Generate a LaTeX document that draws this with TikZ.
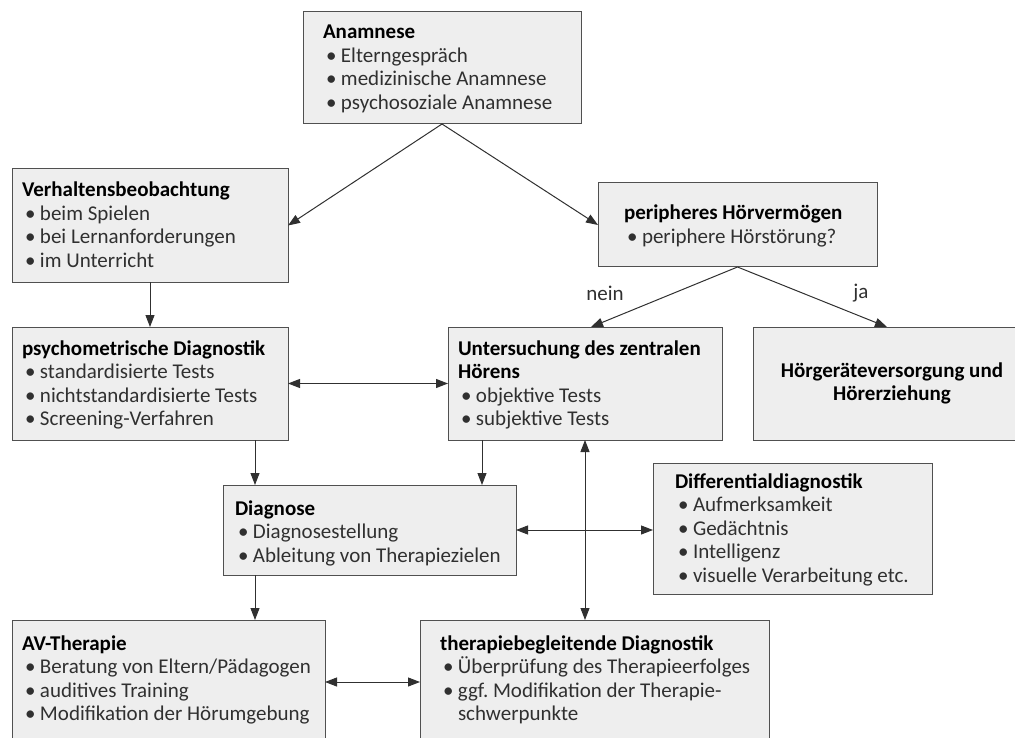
\documentclass[tikz,border=0pt]{standalone}
\usepackage{fontspec}
\setmainfont{Carlito}
\usepackage{tikz}
\usetikzlibrary{arrows.meta,positioning,calc}
\definecolor{boxbg}{HTML}{EEEEEE}
\definecolor{rulec}{HTML}{505050}
\definecolor{itemc}{HTML}{303030}
\newcommand{\boxfont}{\fontsize{21pt}{23.5pt}\selectfont}
\newcommand{\ttl}[1]{\textbf{#1}}
\newcommand{\itm}[1]{\par\leavevmode{\color{itemc}\hspace*{3pt}\makebox[15pt][l]{\textbullet}\mbox{#1}}}
\newcommand{\itmc}[1]{\par\leavevmode{\color{itemc}\hspace*{18pt}\mbox{#1}}}
\newcommand{\boxbody}[4][28pt]{\parbox[t][#3][t]{#2}{\rule{0pt}{#1}#4}}
\tikzset{
  box/.style={draw=rulec,line width=1pt,fill=boxbg,anchor=north west,
    inner xsep=#1,inner ysep=0pt,outer sep=0pt,font=\boxfont},
  box/.default=10pt,
  cbox/.style={draw=rulec,line width=1pt,fill=boxbg,anchor=north west,
    outer sep=0pt,align=center,font=\boxfont\bfseries},
  arr/.style={draw=itemc,line width=1pt,-{Triangle[length=12pt,width=9pt]}},
  darr/.style={arr,{Triangle[length=12pt,width=9pt]}-{Triangle[length=12pt,width=9pt]}},
  lab/.style={font=\boxfont,text=itemc,inner sep=0pt},
}
\begin{document}
\begin{tikzpicture}[x=1pt,y=-1pt]
  \useasboundingbox (0,0) rectangle (1015,738);
  % top row
  \node[box=20pt] (anam) at (303,12) {\boxbody[27pt]{238pt}{112pt}{\ttl{Anamnese}
    \itm{Elterngespräch}\itm{medizinische Anamnese}\itm{psychosoziale Anamnese}}};
  \node[box] (verh) at (12,169) {\boxbody{256pt}{113pt}{\ttl{Verhaltensbeobachtung}
    \itm{beim Spielen}\itm{bei Lernanforderungen}\itm{im Unterricht}}};
  \node[box=26pt] (peri) at (598,183) {\boxbody[37pt]{227pt}{84pt}{\ttl{peripheres Hörvermögen}
    \itm{periphere Hörstörung?}}};
  % middle row
  \node[box] (psych) at (12,327) {\boxbody{256pt}{113pt}{\ttl{psychometrische Diagnostik}
    \itm{standardisierte Tests}\itm{nichtstandardisierte Tests}\itm{Screening-Verfahren}}};
  \node[box] (unter) at (448,327) {\boxbody{254pt}{113pt}{\ttl{Untersuchung des zentralen}\par\ttl{Hörens}
    \itm{objektive Tests}\itm{subjektive Tests}}};
  \node[cbox,minimum width=278pt,minimum height=113pt] (hoer) at (753,327)
    {Hörgeräteversorgung und\\Hörerziehung};
  \node[box=12pt] (diag) at (223,485) {\boxbody[30pt]{269pt}{90pt}{\ttl{Diagnose}
    \itm{Diagnosestellung}\itm{Ableitung von Therapiezielen}}};
  \node[box=22pt] (diff) at (653,463) {\boxbody[25pt]{235pt}{131pt}{\ttl{Differentialdiagnostik}
    \itm{Aufmerksamkeit}\itm{Gedächtnis}\itm{Intelligenz}\itm{visuelle Verarbeitung etc.}}};
  % bottom row
  \node[box] (avth) at (12,620) {\boxbody[30pt]{293pt}{124pt}{\ttl{AV-Therapie}
    \itm{Beratung von Eltern/Pädagogen}\itm{auditives Training}\itm{Modifikation der Hörumgebung}}};
  \node[box=20pt] (tbd) at (420,620) {\boxbody[30pt]{309pt}{124pt}{\ttl{therapiebegleitende Diagnostik}
    \itm{Überprüfung des Therapieerfolges}\itm{ggf.\ Modifikation der Therapie-}\itmc{schwerpunkte}}};
  \coordinate (cl) at (255,0);
  \coordinate (cm) at (482,0);
  % connectors
  \draw[arr] (anam.south) -- (verh.east);
  \draw[arr] (anam.south) -- (peri.west);
  \draw[arr] (verh.south) -- (psych.north);
  \draw[arr] (peri.south) -- ([xshift=6pt]unter.north);
  \draw[arr] (peri.south) -- ([xshift=-5pt]hoer.north);
  \node[lab] (nein) at (605,293) {nein};
  \node[lab] (ja) at (861,293) {ja};
  \draw[darr] (psych.east) -- (unter.west);
  \draw[arr] (psych.south -| cl) -- (diag.north -| cl);
  \draw[arr] (unter.south -| cm) -- (diag.north -| cm);
  \draw[darr] (unter.south) -- (tbd.north -| unter.south);
  \draw[darr] (diag.east) -- (diag.east -| diff.west);
  \draw[arr] (diag.south -| cl) -- (avth.north -| cl);
  \draw[darr] (avth.east) -- (avth.east -| tbd.west);
\end{tikzpicture}
\end{document}
